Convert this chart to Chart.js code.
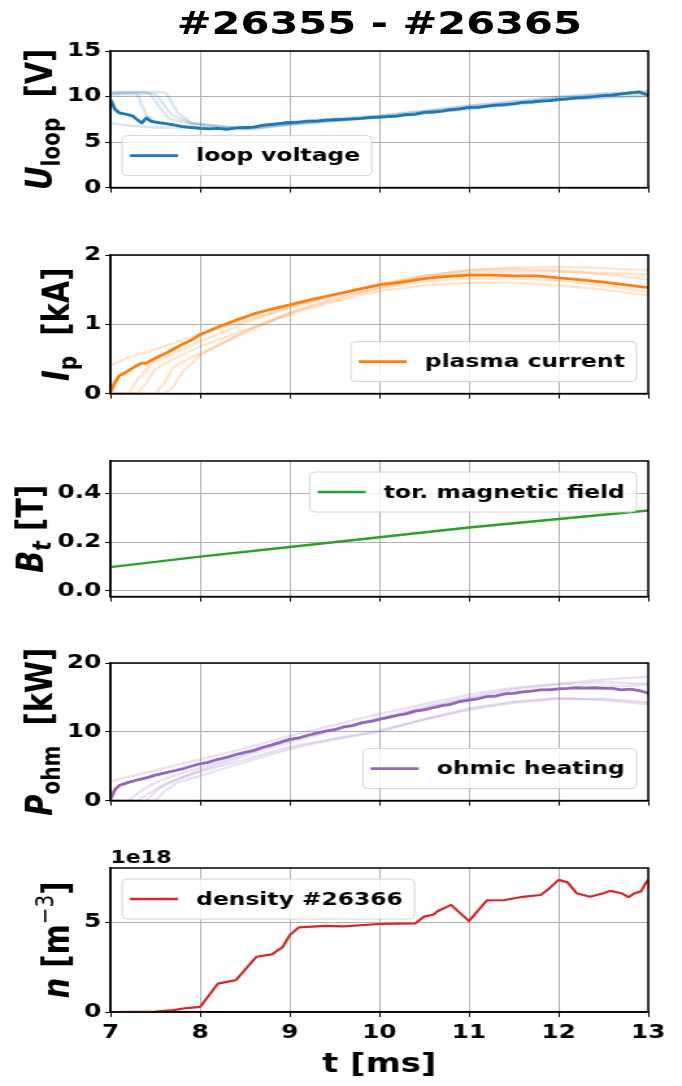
<!DOCTYPE html>
<html>
<head>
<meta charset="utf-8">
<script src="https://cdn.jsdelivr.net/npm/chart.js@4"></script>
<style>
  body { margin: 0; background: #fff; width: 682px; height: 1086px; overflow: hidden; }
  /* the reference figure is a horizontally stretched matplotlib export */
  #fig { position: absolute; left: 0; top: 0; width: 525px; height: 1086px;
         transform: scaleX(1.299); transform-origin: 0 0; }
  #title { position: absolute; left: 85px; width: 414px; top: 4px; line-height: 40px;
           text-align: center; font: bold 32px "DejaVu Sans"; color: #000; white-space: nowrap; }
  canvas { position: absolute; left: 0; }
</style>
</head>
<body>
<div id="fig">
<div id="title">#26355 - #26365</div>
</div>
<script>
// time axis (ms)
const xTicks = [7, 8, 9, 10, 11, 12, 13];

// loop voltage [V], reference shot (dark line)
const uloopT = [7.0, 7.05, 7.1, 7.15, 7.2, 7.25, 7.3, 7.35, 7.4, 7.45, 7.5, 7.55, 7.6,
  7.7, 7.8, 7.9, 8.0, 8.1, 8.2, 8.3, 8.4, 8.5, 8.6,
  8.7, 8.8, 8.9, 9.0, 9.1, 9.2, 9.3, 9.4, 9.5, 9.6,
  9.7, 9.8, 9.9, 10.0, 10.1, 10.2, 10.3, 10.4, 10.5, 10.6,
  10.7, 10.8, 10.9, 11.0, 11.1, 11.2, 11.3, 11.4, 11.5, 11.6,
  11.7, 11.8, 11.9, 12.0, 12.1, 12.2, 12.3, 12.4, 12.5, 12.6,
  12.7, 12.8, 12.9, 13.0];
const uloopV = [9.65, 8.6, 8.2, 8.1, 8.0, 7.85, 7.45, 7.1, 7.65, 7.3, 7.2, 7.1, 7.05,
  6.9, 6.7, 6.6, 6.5, 6.45, 6.5, 6.4, 6.55, 6.6, 6.65,
  6.85, 6.95, 7.05, 7.15, 7.2, 7.3, 7.3, 7.4, 7.45, 7.5,
  7.55, 7.6, 7.7, 7.75, 7.8, 7.85, 8.0, 8.05, 8.25, 8.3,
  8.4, 8.55, 8.65, 8.8, 8.8, 8.95, 9.05, 9.1, 9.2, 9.35,
  9.4, 9.5, 9.55, 9.65, 9.75, 9.85, 9.9, 10.0, 10.1, 10.15,
  10.3, 10.4, 10.5, 10.15];
// other shots of the series (faint lines)
const uloopShotsT = [
  [7, 7.2, 7.3, 7.35, 7.4, 7.5, 7.7, 8, 8.5, 9, 9.5, 10, 10.5, 11, 11.5, 12, 12.5, 13],
  [7, 7.4, 7.45, 7.55, 7.65, 7.9, 8.2, 8.5, 9, 10, 11, 12, 13],
  [7, 7.45, 7.5, 7.58, 7.68, 7.9, 8.2, 8.5, 9, 10, 11, 12, 13],
  [7, 7.2, 7.5, 8, 8.5, 9, 10, 11, 12, 13],
  [7, 7.55, 7.62, 7.68, 7.75, 7.9, 8.3, 8.6, 9, 10, 11, 12, 13]
];
const uloopShotsV = [
  [10.3, 10.4, 10.3, 9.0, 8.0, 7.3, 6.9, 6.6, 6.5, 7.2, 7.6, 7.9, 8.4, 9.0, 9.4, 9.9, 10.3, 10.4],
  [10.4, 10.5, 10.2, 8.8, 7.6, 7.0, 6.7, 6.6, 7.0, 7.7, 8.6, 9.6, 10.2],
  [10.2, 10.3, 10.3, 9.3, 8.0, 7.1, 6.8, 6.5, 6.9, 7.8, 8.8, 9.8, 10.5],
  [7.1, 6.8, 6.6, 6.6, 6.4, 6.9, 7.7, 8.7, 9.7, 10.0],
  [10.5, 10.5, 10.4, 9.4, 8.2, 7.1, 6.6, 6.4, 7.0, 7.9, 9.0, 10.0, 10.6]
];

// plasma current [kA]
const ipT = [7.0, 7.05, 7.1, 7.15, 7.2, 7.3, 7.35, 7.4, 7.5, 7.6, 7.7, 7.8, 7.9, 8.0,
  8.2, 8.4, 8.6, 8.8, 9.0, 9.25, 9.5, 9.75, 10.0, 10.25, 10.5, 10.75,
  11.0, 11.25, 11.5, 11.75, 12.0, 12.25, 12.5, 12.75, 13.0];
const ipV = [0.02, 0.16, 0.26, 0.29, 0.33, 0.41, 0.44, 0.44, 0.51, 0.57, 0.64, 0.71, 0.77, 0.85,
  0.96, 1.06, 1.15, 1.22, 1.28, 1.36, 1.43, 1.50, 1.57, 1.61, 1.66, 1.69,
  1.71, 1.71, 1.70, 1.70, 1.67, 1.64, 1.61, 1.57, 1.53];
const ipShotsT = [
  [7, 7.2, 7.4, 7.6, 8.0, 8.5, 9, 9.5, 10, 10.5, 11, 11.5, 12, 12.5, 13],
  [7, 7.3, 7.4, 7.5, 7.7, 8.0, 8.5, 9, 9.5, 10, 10.5, 11, 11.5, 12, 12.5, 13],
  [7, 7.5, 7.6, 7.7, 7.9, 8.0, 8.5, 9, 9.5, 10, 10.5, 11, 11.5, 12, 12.5, 13],
  [7, 7.2, 7.3, 7.45, 7.6, 8.0, 8.5, 9, 9.5, 10, 10.5, 11, 11.5, 12, 12.5, 13],
  [7, 7.6, 7.7, 7.8, 8.0, 8.5, 9, 9.5, 10, 10.5, 11, 11.5, 12, 12.5, 13]
];
const ipShotsV = [
  [0.40, 0.52, 0.60, 0.68, 0.86, 1.05, 1.25, 1.42, 1.58, 1.70, 1.78, 1.82, 1.83, 1.81, 1.78],
  [0, 0, 0.15, 0.35, 0.50, 0.68, 0.92, 1.14, 1.33, 1.48, 1.56, 1.60, 1.60, 1.56, 1.50, 1.42],
  [0, 0, 0.15, 0.38, 0.52, 0.58, 0.88, 1.16, 1.36, 1.52, 1.62, 1.66, 1.66, 1.63, 1.56, 1.47],
  [0, 0, 0.20, 0.42, 0.52, 0.75, 1.02, 1.24, 1.42, 1.57, 1.70, 1.78, 1.80, 1.78, 1.72, 1.65],
  [0, 0, 0.10, 0.30, 0.55, 0.90, 1.17, 1.38, 1.53, 1.66, 1.74, 1.77, 1.76, 1.74, 1.72]
];

// toroidal magnetic field [T]
const btT = [7, 8, 9, 10, 11, 12, 13];
const btV = [0.097, 0.14, 0.18, 0.22, 0.26, 0.295, 0.33];

// ohmic heating power [kW]
const pohmT = [7.0, 7.05, 7.1, 7.2, 7.3, 7.4,
  7.5, 7.6, 7.7, 7.8, 7.9, 8.0, 8.1, 8.2, 8.3, 8.4,
  8.5, 8.6, 8.7, 8.8, 8.9, 9.0, 9.1, 9.2, 9.3, 9.4,
  9.5, 9.6, 9.7, 9.8, 9.9, 10.0, 10.1, 10.2, 10.3, 10.4,
  10.5, 10.6, 10.7, 10.8, 10.9, 11.0, 11.1, 11.2, 11.3, 11.4,
  11.5, 11.6, 11.7, 11.8, 11.9, 12.0, 12.1, 12.2, 12.3, 12.4,
  12.5, 12.6, 12.7, 12.8, 12.9, 13.0];
const pohmV = [0.2, 1.6, 2.2, 2.65, 3.0, 3.3,
  3.7, 4.0, 4.3, 4.6, 5.0, 5.35, 5.6, 6.0, 6.3, 6.7,
  7.0, 7.3, 7.75, 8.1, 8.5, 8.9, 9.1, 9.5, 9.8, 10.1,
  10.3, 10.7, 10.9, 11.3, 11.5, 11.8, 12.1, 12.4, 12.6, 13.0,
  13.2, 13.5, 13.8, 14.0, 14.4, 14.6, 14.8, 15.1, 15.2, 15.5,
  15.6, 15.8, 15.9, 16.1, 16.1, 16.25, 16.3, 16.4, 16.35, 16.4,
  16.3, 16.3, 16.1, 16.2, 16.0, 15.6];
const pohmShotsT = [
  [7, 7.5, 8, 8.5, 9, 9.5, 10, 10.5, 11, 11.5, 12, 12.5, 13],
  [7, 7.3, 7.45, 7.6, 7.8, 8, 8.5, 9, 9.5, 10, 10.5, 11, 11.5, 12, 12.5, 13],
  [7, 7.5, 7.6, 7.75, 8, 8.5, 9, 9.5, 10, 10.5, 11, 11.5, 12, 12.5, 13],
  [7, 7.2, 7.35, 7.5, 7.75, 8, 8.5, 9, 9.5, 10, 10.5, 11, 11.5, 12, 12.5, 13],
  [7, 7.4, 7.55, 7.7, 8, 8.5, 9, 9.5, 10, 10.5, 11, 11.5, 12, 12.5, 13]
];
const pohmShotsV = [
  [2.8, 4.4, 6.0, 7.6, 9.4, 11.0, 12.6, 14.0, 15.4, 16.4, 17.0, 17.6, 18.0],
  [0, 0, 1.2, 2.4, 3.4, 4.2, 6.0, 7.8, 9.0, 10.2, 11.8, 13.2, 14.2, 14.8, 14.8, 14.3],
  [0, 0, 1.3, 2.6, 3.6, 5.6, 7.5, 8.9, 10.0, 11.8, 13.4, 14.4, 14.9, 14.6, 14.0],
  [0, 0, 1.5, 2.6, 3.8, 4.8, 6.8, 8.8, 10.4, 12.0, 13.6, 15.0, 16.2, 16.9, 17.2, 17.0],
  [0, 0, 1.8, 2.8, 4.4, 6.5, 8.5, 10.2, 11.8, 13.4, 14.8, 15.8, 16.3, 16.6, 16.8]
];

// electron density, shot #26366 [1e18 m^-3]
const densT = [7.0, 7.5, 7.7, 7.85, 8.0, 8.2, 8.4, 8.63, 8.8, 8.92,
  9.0, 9.1, 9.4, 9.6, 10.0, 10.4, 10.5, 10.6, 10.65, 10.8,
  11.0, 11.2, 11.4, 11.6, 11.8, 11.9, 12.0, 12.1, 12.2, 12.35,
  12.5, 12.58, 12.7, 12.78, 12.85, 12.92, 12.97, 13.0];
const densV = [0.0, 0.02, 0.1, 0.22, 0.28, 1.58, 1.77, 3.07, 3.2, 3.6,
  4.27, 4.7, 4.78, 4.76, 4.89, 4.92, 5.3, 5.4, 5.6, 5.95,
  5.05, 6.2, 6.22, 6.4, 6.5, 6.88, 7.34, 7.2, 6.6, 6.4,
  6.6, 6.73, 6.6, 6.38, 6.6, 6.7, 7.15, 7.34];

// panel frames on the page (unstretched px)
const W = 525;
const plotLeft = 85, plotRight = 499;
const plotTop = [51, 255, 461, 663, 868];
const plotBottom = [194, 400, 603, 807, 1012];
const FONT = '"DejaVu Sans"';
const TICK_FONT = 'bold 19px ' + FONT;

function pts(t, v) { return t.map((x, i) => ({ x: x, y: v[i] })); }

function richLabel(ctx, segs, cx, cy, size) {
  const fontFor = s => (s.italic ? 'italic ' : '') + (s.normal ? '' : 'bold ') +
    Math.round((s.sub || s.sup) ? size * 0.7 : size) + 'px ' + FONT;
  let total = 0;
  segs.forEach(s => { ctx.font = fontFor(s); s.w = ctx.measureText(s.t).width; total += s.w; });
  ctx.save();
  ctx.translate(cx, cy);
  ctx.rotate(-Math.PI / 2);
  ctx.fillStyle = '#000';
  ctx.textBaseline = 'alphabetic';
  let x = -total / 2;
  segs.forEach(s => {
    ctx.font = fontFor(s);
    const dy = s.sub ? size * 0.22 : (s.sup ? -size * 0.42 : 0);
    ctx.fillText(s.t, x, dy + size * 0.36);
    x += s.w;
  });
  ctx.restore();
}

// matplotlib-like frame, legend box, y label and offset text
const mplDecor = {
  id: 'mplDecor',
  afterDatasetsDraw(chart, args, o) {
    const { ctx, chartArea: a } = chart;
    ctx.save();
    ctx.strokeStyle = '#000';
    ctx.lineWidth = 1.5;
    ctx.strokeRect(a.left, a.top, a.right - a.left, a.bottom - a.top);

    ctx.font = 'bold 18px ' + FONT;
    const w = 57 + ctx.measureText(o.label).width + 9;
    const h = 40;
    const x = o.loc.includes('left') ? a.left + 9 : a.right - 9 - w;
    const y = o.loc.includes('upper') ? a.top + 11 : a.bottom - 12 - h;
    ctx.beginPath();
    ctx.roundRect(x, y, w, h, 4);
    ctx.fillStyle = 'rgba(255,255,255,0.8)';
    ctx.fill();
    ctx.strokeStyle = '#d4d4d4';
    ctx.lineWidth = 1;
    ctx.stroke();
    ctx.beginPath();
    ctx.moveTo(x + 6, y + h / 2);
    ctx.lineTo(x + 43, y + h / 2);
    ctx.strokeStyle = o.color;
    ctx.lineWidth = 2.6;
    ctx.stroke();
    ctx.fillStyle = '#000';
    ctx.textBaseline = 'middle';
    ctx.fillText(o.label, x + 57, y + h / 2 + 1);

    if (o.offsetText) {
      ctx.font = 'bold 17px ' + FONT;
      ctx.textBaseline = 'bottom';
      ctx.fillText(o.offsetText, a.left, a.top - 1);
    }

    // y label sits left of the widest tick label, like matplotlib
    ctx.font = TICK_FONT;
    const widest = Math.max(...chart.scales.y.ticks.map(t => ctx.measureText(String(t.label)).width));
    ctx.restore();
    const labelSize = 29;
    const cx = a.left - 7 - widest - 8 - labelSize * 0.49;
    richLabel(ctx, o.ylabel, cx, (a.top + a.bottom) / 2, labelSize);
  }
};

function makePanel(i, p) {
  const padTop = 26;
  const last = i === 4;
  const top = plotTop[i] - padTop;
  const xh = last ? 1086 - plotBottom[i] : 8;
  const h = plotBottom[i] - top + xh;
  const cv = document.createElement('canvas');
  cv.width = W; cv.height = h;
  cv.style.top = top + 'px';
  cv.style.width = W + 'px'; cv.style.height = h + 'px';
  document.getElementById('fig').appendChild(cv);

  const datasets = [{
    data: pts(p.t, p.v), borderColor: p.color, borderWidth: p.width || 2.8, order: 0
  }];
  (p.shotsT || []).forEach((st, k) => datasets.push({
    data: pts(st, p.shotsV[k]), borderColor: p.faint, borderWidth: 2.4, order: 1
  }));

  new Chart(cv, {
    type: 'line',
    data: { datasets: datasets },
    options: {
      responsive: false,
      devicePixelRatio: 1,
      animation: false,
      events: [],
      layout: { padding: { top: padTop, left: 0, right: W - plotRight, bottom: 0 } },
      elements: { point: { radius: 0 }, line: { tension: 0, borderCapStyle: 'round', borderJoinStyle: 'round' } },
      plugins: {
        legend: { display: false },
        tooltip: { enabled: false },
        mplDecor: { label: p.label, loc: p.loc, color: p.color, ylabel: p.ylabel, offsetText: p.offsetText }
      },
      scales: {
        x: {
          type: 'linear', min: 7, max: 13,
          afterBuildTicks: s => { s.ticks = xTicks.map(v => ({ value: v })); },
          afterFit: s => { s.height = xh; },
          grid: { color: '#b0b0b0', lineWidth: 1, tickLength: 5, tickColor: '#000', drawTicks: true },
          border: { color: '#000', width: 1.5 },
          ticks: { display: last, color: '#000', padding: 5, maxRotation: 0,
                   font: { family: FONT, weight: 'bold', size: 19 } },
          title: { display: last, text: 't [ms]', color: '#000', padding: { top: 0, bottom: 5 },
                   font: { family: FONT, weight: 'bold', size: 26, lineHeight: 1.2 } }
        },
        y: {
          type: 'linear', min: p.ymin, max: p.ymax,
          afterBuildTicks: s => { s.ticks = p.yTicks.map(v => ({ value: v })); },
          afterFit: s => { s.width = plotLeft; },
          grid: { color: '#b0b0b0', lineWidth: 1, tickLength: 4, tickColor: '#000', drawTicks: true },
          border: { color: '#000', width: 1.5 },
          ticks: { color: '#000', padding: 3,
                   font: { family: FONT, weight: 'bold', size: 19 },
                   callback: v => p.fmt ? v.toFixed(p.fmt) : String(v) }
        }
      }
    },
    plugins: [mplDecor]
  });
}

makePanel(0, {
  t: uloopT, v: uloopV, shotsT: uloopShotsT, shotsV: uloopShotsV,
  color: '#1f77b4', faint: 'rgba(31,119,180,0.18)', label: 'loop voltage', loc: 'lower left',
  ymin: 0, ymax: 15, yTicks: [0, 5, 10, 15],
  ylabel: [{ t: 'U', italic: true }, { t: 'loop', sub: true }, { t: '  [V]' }]
});
makePanel(1, {
  t: ipT, v: ipV, shotsT: ipShotsT, shotsV: ipShotsV,
  color: '#ff7f0e', faint: 'rgba(255,127,14,0.2)', label: 'plasma current', loc: 'lower right',
  ymin: 0, ymax: 2, yTicks: [0, 1, 2],
  ylabel: [{ t: 'I', italic: true }, { t: 'p', sub: true }, { t: '  [kA]' }]
});
makePanel(2, {
  t: btT, v: btV, width: 2.4,
  color: '#2ca02c', label: 'tor. magnetic field', loc: 'upper right',
  ymin: -0.024, ymax: 0.533, yTicks: [0, 0.2, 0.4], fmt: 1,
  ylabel: [{ t: 'B', italic: true }, { t: 't', sub: true, italic: true }, { t: ' [T]' }]
});
makePanel(3, {
  t: pohmT, v: pohmV, shotsT: pohmShotsT, shotsV: pohmShotsV,
  color: '#9467bd', faint: 'rgba(148,103,189,0.2)', label: 'ohmic heating', loc: 'lower right',
  ymin: 0, ymax: 20, yTicks: [0, 10, 20],
  ylabel: [{ t: 'P', italic: true }, { t: 'ohm', sub: true }, { t: '  [kW]' }]
});
makePanel(4, {
  t: densT, v: densV, width: 2.2,
  color: '#d62728', label: 'density #26366', loc: 'upper left',
  ymin: 0, ymax: 8, yTicks: [0, 5], offsetText: '1e18',
  ylabel: [{ t: 'n', italic: true }, { t: ' [m' }, { t: '\u22123', sup: true, normal: true }, { t: ']' }]
});
</script>
</body>
</html>
